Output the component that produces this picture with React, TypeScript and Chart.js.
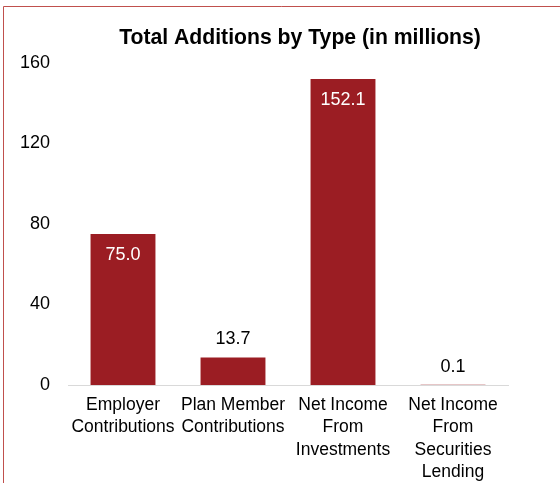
import React, { useEffect, useRef } from "react";
import { Chart, registerables } from "chart.js";

Chart.register(...registerables);

const categories: string[][] = [
  ["Employer", "Contributions"],
  ["Plan Member", "Contributions"],
  ["Net Income", "From", "Investments"],
  ["Net Income", "From", "Securities", "Lending"],
];
const values: number[] = [75.0, 13.7, 152.1, 0.1];
const valueLabels: string[] = ["75.0", "13.7", "152.1", "0.1"];
const yTicks: number[] = [0, 40, 80, 120, 160];
const titleText = "Total Additions by Type (in millions)";

const FONT = "'Liberation Sans', Arial, Helvetica, sans-serif";
const BAR_COLOR = "#9B1D23";
const BORDER_COLOR = "#C0504D";

const decorPlugin = {
  id: "decor",
  beforeDraw(chart: any) {
    const ctx = chart.ctx;
    ctx.save();
    ctx.fillStyle = "#ffffff";
    ctx.fillRect(0, 0, chart.width, chart.height);
    ctx.strokeStyle = BORDER_COLOR;
    ctx.lineWidth = 1;
    ctx.beginPath();
    ctx.moveTo(3.5, chart.height);
    ctx.lineTo(3.5, 6.5);
    ctx.lineTo(chart.width, 6.5);
    ctx.stroke();
    ctx.fillStyle = "#000000";
    ctx.font = `bold 21.2px ${FONT}`;
    ctx.textAlign = "center";
    ctx.textBaseline = "middle";
    ctx.fillText(titleText, 300, 38);
    ctx.restore();
  },
  afterDatasetsDraw(chart: any) {
    const ctx = chart.ctx;
    const meta = chart.getDatasetMeta(0);
    ctx.save();
    ctx.font = `18px ${FONT}`;
    ctx.textAlign = "center";
    ctx.textBaseline = "middle";
    meta.data.forEach((bar: any, i: number) => {
      const v = values[i];
      if (v > 40) {
        ctx.fillStyle = "#ffffff";
        ctx.fillText(valueLabels[i], bar.x, bar.y + 21);
      } else {
        ctx.fillStyle = "#000000";
        ctx.fillText(valueLabels[i], bar.x, bar.y - 18);
      }
    });
    ctx.restore();
  },
};

export default function App() {
  const ref = useRef<HTMLCanvasElement>(null);
  useEffect(() => {
    if (!ref.current) return;
    Chart.defaults.font.family = FONT;
    const chart = new Chart(ref.current, {
      type: "bar",
      data: {
        labels: categories,
        datasets: [
          {
            data: values,
            backgroundColor: BAR_COLOR,
            barPercentage: 0.59,
            categoryPercentage: 1,
          },
        ],
      },
      plugins: [decorPlugin],
      options: {
        responsive: false,
        animation: false,
        layout: { padding: { top: 63, right: 52, bottom: 0, left: 0 } },
        plugins: {
          legend: { display: false },
          title: { display: false },
          tooltip: { enabled: false },
        },
        scales: {
          x: {
            grid: { display: false, drawTicks: false },
            border: { display: true, color: "#D9D9D9", width: 1 },
            ticks: {
              color: "#000000",
              font: { size: 17.5, lineHeight: 1.275 },
              padding: 9,
              maxRotation: 0,
              autoSkip: false,
            },
            afterFit(scale: any) {
              scale.height = 98;
            },
          },
          y: {
            min: 0,
            max: 160,
            afterBuildTicks(scale: any) {
              scale.ticks = yTicks.map((v) => ({ value: v }));
            },
            grid: { display: false, drawTicks: false },
            border: { display: false },
            ticks: {
              color: "#000000",
              font: { size: 18 },
              padding: 18,
            },
            afterFit(scale: any) {
              scale.width = 68;
            },
          },
        },
      },
    });
    return () => chart.destroy();
  }, []);
  return (
    <div style={{ position: "fixed", left: 0, top: 0, width: 560, height: 483, overflow: "hidden" }}>
      <canvas ref={ref} width={560} height={483} style={{ display: "block" }} />
    </div>
  );
}
